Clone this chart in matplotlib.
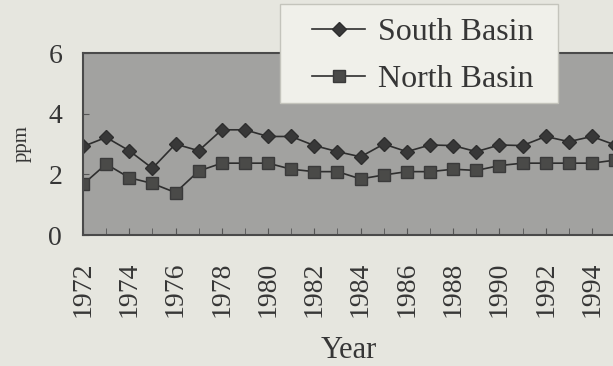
import numpy as np
import matplotlib
matplotlib.use("Agg")
import matplotlib.pyplot as plt
from matplotlib.patches import Rectangle

years = list(range(1972, 1996))
south = [2.92, 3.22, 2.78, 2.20, 3.00, 2.78, 3.47, 3.47, 3.25, 3.25, 2.95, 2.75,
         2.58, 3.00, 2.75, 2.97, 2.95, 2.75, 2.97, 2.95, 3.25, 3.08, 3.25, 2.97]
north = [1.67, 2.34, 1.89, 1.70, 1.40, 2.11, 2.37, 2.37, 2.37, 2.17, 2.09, 2.09,
         1.85, 1.98, 2.09, 2.09, 2.17, 2.13, 2.29, 2.37, 2.37, 2.37, 2.37, 2.47]
xtick_labels = [str(y) for y in range(1972, 1996, 2)]
yticks = [0, 2, 4, 6]

plt.rcParams['font.family'] = ['Liberation Serif', 'DejaVu Serif']
txt = '#363636'

fig = plt.figure(figsize=(6.13, 3.66), dpi=100, facecolor='#e6e6df')
ax = fig.add_axes([0.1354, 0.3579, 0.868, 0.497])
ax.set_facecolor('#a2a2a0')

ax.plot(years, south, color='#2e2e2e', lw=1.2, marker='D', ms=7.5,
        mfc='#383838', mec='#2e2e2e', label='South Basin')
ax.plot(years, north, color='#2e2e2e', lw=1.2, marker='s', ms=8.5,
        mfc='#4a4a48', mec='#3a3a3a', label='North Basin')

ax.set_xlim(1972, 1995)
ax.set_ylim(0, 6)
ax.set_yticks(yticks)
ax.set_yticklabels([str(v) for v in yticks], fontsize=20, color=txt)
ax.set_xticks(range(1972, 1996, 2))
ax.set_xticklabels(xtick_labels, rotation=90, fontsize=20, color=txt)
ax.set_xticks(range(1972, 1996), minor=True)
ax.tick_params(axis='x', which='both', direction='in', length=5, color='#555555', pad=19)
ax.tick_params(axis='y', direction='in', length=4, color='#555555', pad=15)

for s in ['left', 'top', 'bottom']:
    ax.spines[s].set_color('#4a4a4a')
    ax.spines[s].set_linewidth(1.5)
ax.spines['right'].set_visible(False)

ax.set_xlabel('Year', fontsize=22, color=txt, labelpad=14)
ax.set_ylabel('ppm', fontsize=15, color=txt, labelpad=12)

# legend box
fig.patches.append(Rectangle((280 / 613, 1 - 103 / 366), 278 / 613, 99 / 366,
                             transform=fig.transFigure, facecolor='#f0f0ea',
                             edgecolor='#c4c4bc', lw=1, zorder=2))
leg = fig.legend(loc='upper left', bbox_to_anchor=(312 / 613, 1 - 18 / 366), fontsize=23,
                 frameon=False, handlelength=1.66, handletextpad=0.4,
                 borderpad=0, labelspacing=0.54, borderaxespad=0)
leg.set_zorder(3)
for t in leg.get_texts():
    t.set_color(txt)

plt.savefig('out.png', dpi=100, facecolor=fig.get_facecolor())
